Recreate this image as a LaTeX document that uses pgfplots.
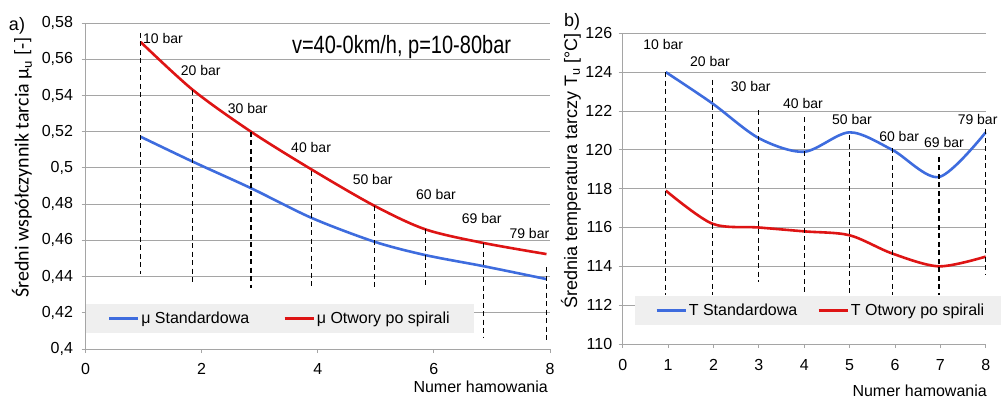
\documentclass[border=0pt]{standalone}
\usepackage{fontspec}
\setmainfont{Liberation Sans}
\newfontfamily\calibri{Carlito}
\usepackage{pgfplots}
\pgfplotsset{compat=1.18}

\definecolor{serblue}{RGB}{62,108,222}
\definecolor{serred}{RGB}{222,20,20}
\definecolor{gridgray}{RGB}{165,165,165}
\definecolor{legbg}{RGB}{239,239,239}

\tikzset{
  barlab/.style={font=\fontsize{14}{14}\selectfont, anchor=west, inner sep=0pt},
}
\pgfplotsset{
  chartbase/.style={
    scale only axis,
    anchor=south west,
    axis x line*=bottom, axis y line*=left,
    x axis line style={-}, y axis line style={-},
    axis line style={gridgray, line width=0.8pt},
    ymajorgrids, grid style={gridgray, line width=0.8pt},
    tick align=outside, major tick length=4pt,
    tick style={gridgray, line width=0.8pt},
    tick label style={font=\fontsize{16}{16}\selectfont},
    /pgf/number format/assume math mode=true,
    /pgf/number format/use comma,
    clip=false,
    legend style={fill=legbg, draw=none, anchor=south west,
      font=\fontsize{16}{16}\selectfont, inner ysep=6pt},
    legend columns=2,
    legend image code/.code={\draw[##1, line width=2.6pt] (0pt,0pt) -- (29pt,0pt);},
  },
  guide/.style={black, dash pattern=on 5pt off 3.5pt, line width=1.1pt, forget plot},
  curve/.style={smooth, line width=2.6pt, no marks},
}

\begin{document}
\begin{tikzpicture}
\useasboundingbox (0,0) rectangle (1001pt,400pt);

% ---------------- a) mean friction coefficient ----------------
\begin{axis}[chartbase,
  at={(85.5pt,51pt)}, width=464.5pt, height=326pt,
  xmin=0, xmax=8, ymin=0.4, ymax=0.58,
  xtick={0,2,4,6,8},
  ytick={0.4,0.42,0.44,0.46,0.48,0.5,0.52,0.54,0.56,0.58},
  yticklabel style={xshift=-5pt},
  xticklabel style={yshift=-7pt},
  legend style={at={(0,0.049)}, inner xsep=22pt,
    /tikz/every even column/.append style={column sep=32pt}},
]
\addplot[serblue, curve] coordinates {
  (0.95,0.5172) (1.85,0.5034) (2.85,0.4888) (3.9,0.4723)
  (4.98,0.4592) (5.86,0.4518) (6.86,0.4457) (7.94,0.4386)};
\addlegendentry{μ Standardowa}
\addplot[serred, curve] coordinates {
  (0.95,0.5695) (1.85,0.543) (2.85,0.520) (3.9,0.499)
  (4.98,0.479) (5.86,0.466) (6.86,0.4585) (7.94,0.4524)};
\addlegendentry{μ Otwory po spirali}

% pressure markers
\addplot[guide] coordinates {(0.95,0.5745) (0.95,0.4413)};
\addplot[guide] coordinates {(1.85,0.543) (1.85,0.4364)};
\addplot[guide] coordinates {(2.85,0.520) (2.85,0.4336)};
\addplot[guide] coordinates {(3.9,0.4985) (3.9,0.4330)};
\addplot[guide] coordinates {(4.98,0.479) (4.98,0.4326)};
\addplot[guide] coordinates {(5.86,0.466) (5.86,0.4340)};
\addplot[guide] coordinates {(6.86,0.4585) (6.86,0.4066)};
\addplot[guide] coordinates {(7.94,0.4452) (7.94,0.4049)};

\node[barlab] at (axis cs:0.99,0.5717) {10 bar};
\node[barlab] at (axis cs:1.64,0.554) {20 bar};
\node[barlab] at (axis cs:2.45,0.533) {30 bar};
\node[barlab] at (axis cs:3.54,0.511) {40 bar};
\node[barlab] at (axis cs:4.60,0.4938) {50 bar};
\node[barlab] at (axis cs:5.69,0.4855) {60 bar};
\node[barlab] at (axis cs:6.48,0.4723) {69 bar};
\node[barlab] at (axis cs:7.30,0.4640) {79 bar};

\node[anchor=base west, inner sep=0pt] at (axis cs:3.554,0.5634)
  {\scalebox{0.8}[1]{\fontsize{25}{25}\selectfont v=40-0km/h, p=10-80bar}};
\end{axis}

% ---------------- b) mean disc temperature ----------------
\begin{axis}[chartbase,
  at={(622.7pt,56pt)}, width=363pt, height=310.7pt,
  xmin=0, xmax=8, ymin=110, ymax=126,
  xtick={0,1,...,8},
  ytick={110,112,...,126},
  yticklabel style={xshift=-3pt},
  xticklabel style={yshift=-8pt},
  legend style={at={(0.034,0.061)}, inner xsep=20pt,
    /tikz/every even column/.append style={column sep=18pt}},
]
\addplot[serblue, curve] coordinates {
  (0.95,124.0) (1.97,122.4) (3,120.6) (4,119.9)
  (5,120.9) (5.94,120.0) (6.97,118.6) (8,120.9)};
\addlegendentry{T Standardowa}
\addplot[serred, curve] coordinates {
  (0.95,117.9) (1.97,116.2) (3,116.0) (4,115.8)
  (5,115.6) (5.94,114.66) (6.97,114.0) (8,114.5)};
\addlegendentry{T Otwory po spirali}

% pressure markers
\addplot[guide] coordinates {(0.95,124.0) (0.95,112.5)};
\addplot[guide] coordinates {(1.97,123.6) (1.97,112.5)};
\addplot[guide] coordinates {(3,122.05) (3,113.2)};
\addplot[guide] coordinates {(4,121.67) (4,112.5)};
\addplot[guide] coordinates {(5,120.76) (5,112.5)};
\addplot[guide] coordinates {(5.94,120.1) (5.94,112.5)};
\addplot[guide] coordinates {(6.97,119.64) (6.97,112.5)};
\addplot[guide] coordinates {(8,121.05) (8,113.6)};

\node[barlab] at (axis cs:0.45,125.4) {10 bar};
\node[barlab] at (axis cs:1.48,124.54) {20 bar};
\node[barlab] at (axis cs:2.38,123.25) {30 bar};
\node[barlab] at (axis cs:3.53,122.4) {40 bar};
\node[barlab] at (axis cs:4.61,121.57) {50 bar};
\node[barlab] at (axis cs:5.65,120.7) {60 bar};
\node[barlab] at (axis cs:6.64,120.36) {69 bar};
\node[barlab] at (axis cs:7.38,121.57) {79 bar};
\end{axis}

% panel letters and axis titles
\node[font=\fontsize{18}{18}\selectfont, inner sep=0pt] at (17pt,374pt) {a)};
\node[font=\fontsize{18}{18}\selectfont, inner sep=0pt] at (572pt,378pt) {b)};
\node[font=\calibri\fontsize{20}{20}\selectfont, rotate=90, inner sep=0pt]
  at (22pt,232.5pt) {Średni współczynnik tarcia μ\textsubscript{u} [-]};
\node[font=\fontsize{18}{18}\selectfont, rotate=90, inner sep=0pt]
  at (571pt,229pt) {Średnia temperatura tarczy T\textsubscript{u} [°C]};
\node[font=\fontsize{16}{16}\selectfont, anchor=east, inner sep=0pt]
  at (548pt,13pt) {Numer hamowania};
\node[font=\fontsize{16}{16}\selectfont, anchor=east, inner sep=0pt]
  at (987pt,9pt) {Numer hamowania};
\end{tikzpicture}
\end{document}
